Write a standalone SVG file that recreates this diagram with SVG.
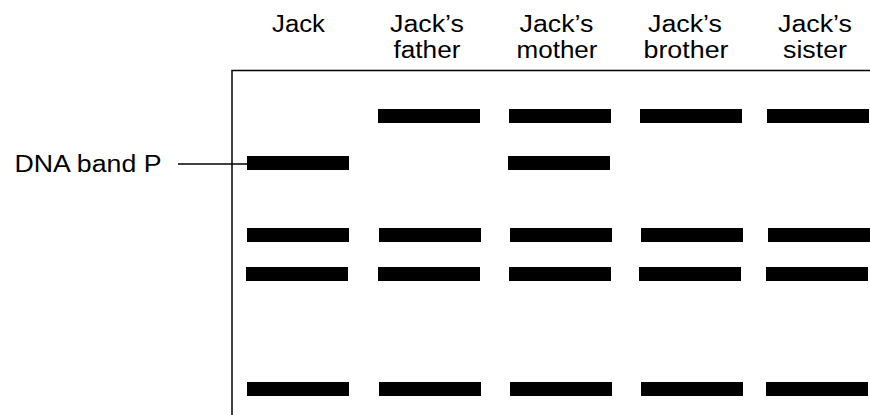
<svg xmlns="http://www.w3.org/2000/svg" width="870" height="415" viewBox="0 0 870 415">
<style>
text{font-family:"Liberation Sans",Arial,sans-serif;font-size:23px;fill:#000;text-anchor:middle}
.band{fill:#000}
.ln{stroke:#000;stroke-width:1.5;fill:none}
</style>
<rect width="870" height="415" fill="#fff"/>
<g id="frame">
<path class="ln" d="M232,415 V70.5 H870"/>
</g>
<g id="labels">
<text x="298.5" y="32" textLength="53" lengthAdjust="spacingAndGlyphs">Jack</text>
<text x="427" y="32" textLength="74" lengthAdjust="spacingAndGlyphs">Jack’s</text><text x="427" y="58" textLength="67" lengthAdjust="spacingAndGlyphs">father</text>
<text x="556.5" y="32" textLength="74" lengthAdjust="spacingAndGlyphs">Jack’s</text><text x="557" y="58" textLength="81" lengthAdjust="spacingAndGlyphs">mother</text>
<text x="685" y="32" textLength="74" lengthAdjust="spacingAndGlyphs">Jack’s</text><text x="686" y="58" textLength="85" lengthAdjust="spacingAndGlyphs">brother</text>
<text x="815" y="32" textLength="74" lengthAdjust="spacingAndGlyphs">Jack’s</text><text x="815" y="58" textLength="64" lengthAdjust="spacingAndGlyphs">sister</text>
<text x="88" y="171.5" textLength="147" lengthAdjust="spacingAndGlyphs">DNA band P</text>
</g>
<g id="connectors">
<line class="ln" x1="178" y1="164" x2="247" y2="164"/>
</g>
<g id="lane-jack">
<rect class="band" x="247" y="156" width="102" height="14"/>
<rect class="band" x="247" y="228" width="102" height="14"/>
<rect class="band" x="246" y="267" width="102" height="14"/>
<rect class="band" x="247" y="382" width="102" height="14"/>
</g>
<g id="lane-father">
<rect class="band" x="378" y="109" width="102" height="14"/>
<rect class="band" x="379" y="228" width="102" height="14"/>
<rect class="band" x="378" y="267" width="102" height="14"/>
<rect class="band" x="379" y="382" width="102" height="14"/>
</g>
<g id="lane-mother">
<rect class="band" x="509" y="109" width="102" height="14"/>
<rect class="band" x="508" y="156" width="102" height="14"/>
<rect class="band" x="510" y="228" width="102" height="14"/>
<rect class="band" x="509" y="267" width="102" height="14"/>
<rect class="band" x="510" y="382" width="102" height="14"/>
</g>
<g id="lane-brother">
<rect class="band" x="640" y="109" width="102" height="14"/>
<rect class="band" x="641" y="228" width="102" height="14"/>
<rect class="band" x="639" y="267" width="102" height="14"/>
<rect class="band" x="641" y="382" width="102" height="14"/>
</g>
<g id="lane-sister">
<rect class="band" x="767" y="109" width="102" height="14"/>
<rect class="band" x="768" y="228" width="102" height="14"/>
<rect class="band" x="766" y="267" width="102" height="14"/>
<rect class="band" x="766" y="382" width="102" height="14"/>
</g>
</svg>
